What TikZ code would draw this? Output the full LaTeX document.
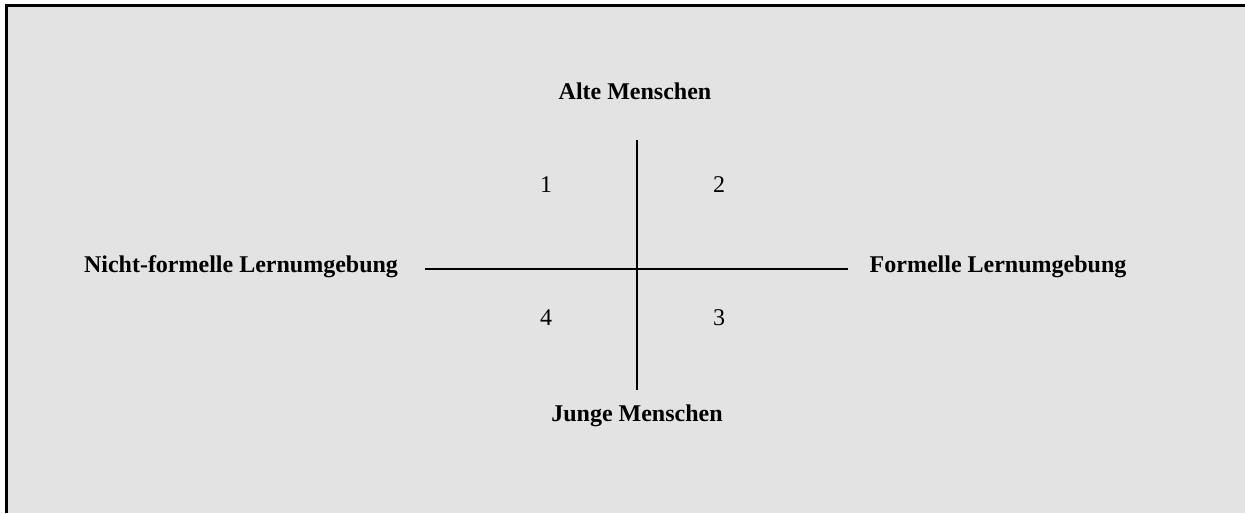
\documentclass[tikz,border=0pt]{standalone}
\usepackage{fontspec}
\setmainfont{Liberation Serif}
\usetikzlibrary{positioning}
\definecolor{hintergrund}{HTML}{E3E3E3}
\tikzstyle{every node}=[font=\fontsize{12}{14}\selectfont,inner sep=0pt,anchor=base]
\tikzstyle{titel}=[font=\fontsize{12}{14}\selectfont\bfseries]
\tikzstyle{zahl}=[]
\tikzstyle{achse}=[draw,line width=1pt]

\begin{document}
\begin{tikzpicture}[x=0.5pt,y=-0.5pt]
  \useasboundingbox (0,0) rectangle (1245,513);
  \fill[hintergrund] (6,6) rectangle (1245,513);
  \draw[line width=1.5pt] (6,513) -- (6,6) -- (1245,6);
  % Achsen
  \coordinate (west) at (425,269);
  \coordinate (ost) at (848,269);
  \coordinate (nord) at (637,140);
  \coordinate (sued) at (637,390);
  \draw[achse] (west) -- (ost);
  \draw[achse] (nord) -- (sued);
  % Beschriftung
  \node[titel] (alte) at (635,99.5) {Alte Menschen};
  \node[titel] (junge) at (637,421.5) {Junge Menschen};
  \node[titel] (nicht) at (241,272) {Nicht-formelle Lernumgebung};
  \node[titel] (formell) at (998,272) {Formelle Lernumgebung};
  % Quadranten
  \node[zahl] (q1) at (546,192.5) {1};
  \node[zahl] (q2) at (719,192.5) {2};
  \node[zahl] (q3) at (719,325) {3};
  \node[zahl] (q4) at (546,325) {4};
\end{tikzpicture}
\end{document}
